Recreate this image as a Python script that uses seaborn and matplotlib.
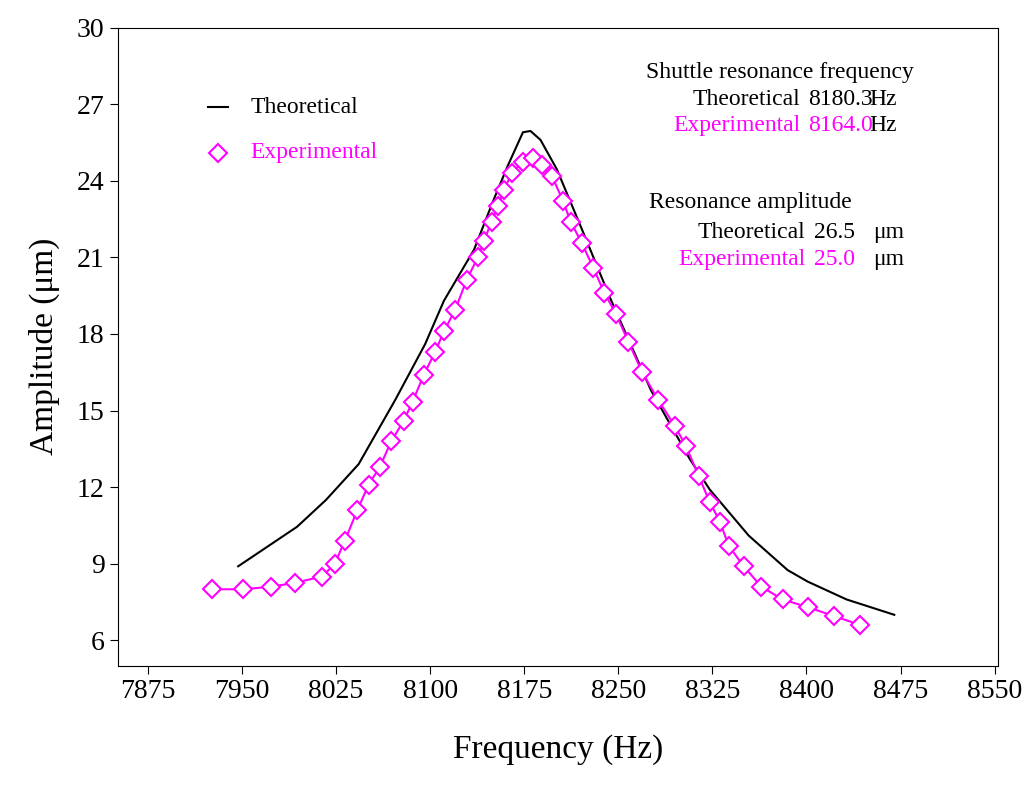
import matplotlib
matplotlib.use("Agg")
import matplotlib.pyplot as plt
import seaborn as sns

theo_f = [7947, 7994, 8017, 8043, 8072, 8096, 8111, 8135, 8151, 8162, 8174, 8180, 8188, 8201, 8221, 8244, 8276, 8307, 8323, 8354, 8385, 8401, 8432, 8470]
theo_a = [8.9, 10.45, 11.5, 12.9, 15.4, 17.6, 19.3, 21.3, 23.3, 24.6, 25.9, 25.95, 25.6, 24.45, 22.1, 19.35, 15.8, 13.1, 11.9, 10.1, 8.75, 8.3, 7.6, 7.0]
exp_f = [7926, 7951, 7973, 7992, 8014, 8024, 8032, 8042, 8051, 8060, 8069, 8079, 8086, 8095, 8104, 8111, 8120, 8129, 8138, 8143, 8149, 8154, 8159, 8165, 8174, 8182, 8189, 8197, 8206, 8212, 8221, 8230, 8239, 8248, 8258, 8269, 8282, 8295, 8304, 8314, 8323, 8331, 8338, 8350, 8364, 8381, 8401, 8422, 8443]
exp_a = [8.0, 8.0, 8.1, 8.25, 8.5, 9.0, 9.9, 11.1, 12.1, 12.8, 13.8, 14.6, 15.35, 16.4, 17.3, 18.1, 18.95, 20.1, 21.0, 21.65, 22.4, 23.0, 23.65, 24.3, 24.75, 24.9, 24.6, 24.2, 23.2, 22.4, 21.55, 20.6, 19.6, 18.8, 17.7, 16.5, 15.4, 14.4, 13.6, 12.45, 11.4, 10.65, 9.7, 8.9, 8.1, 7.6, 7.3, 6.95, 6.6]
xticks = [7875, 7950, 8025, 8100, 8175, 8250, 8325, 8400, 8475, 8550]
yticks = [6, 9, 12, 15, 18, 21, 24, 27, 30]

plt.rcParams["font.family"] = "Liberation Serif"
fig, ax = plt.subplots(figsize=(10.24, 7.88), dpi=100)
fig.subplots_adjust(left=0.115, right=0.975, top=0.965, bottom=0.155)
mag = "#ff00ff"
sns.lineplot(x=theo_f, y=theo_a, ax=ax, color="black", lw=1.5, sort=False)
sns.lineplot(x=exp_f, y=exp_a, ax=ax, color=mag, lw=1.5, marker="D", markersize=9,
             markerfacecolor="white", markeredgecolor=mag, markeredgewidth=1.5, sort=False)
ax.set_xlim(7851, 8553)
ax.set_ylim(5, 30)
ax.set_xticks(xticks)
ax.set_yticks(yticks)
ax.tick_params(labelsize=20, direction="out", length=6)
ax.set_xlabel("Frequency (Hz)", fontsize=24, labelpad=22)
ax.set_ylabel("Amplitude (μm)", fontsize=24, labelpad=12)

# legend
ax.plot([7923, 7939], [26.87, 26.87], color="black", lw=1.5)
ax.text(7957, 26.87, "Theoretical", fontsize=17, va="center")
ax.plot([7931], [25.1], marker="D", ms=9, mfc="white", mec=mag, mew=1.5)
ax.text(7957, 25.1, "Experimental", fontsize=17, va="center", color=mag)

fs = 17
ax.text(8486, 28.24, "Shuttle resonance frequency", fontsize=fs, ha="right", va="center")
ax.text(8395, 27.2, "Theoretical", fontsize=fs, ha="right", va="center")
ax.text(8401, 27.2, "8180.3", fontsize=fs, ha="left", va="center")
ax.text(8450, 27.2, "Hz", fontsize=fs, ha="left", va="center")
ax.text(8395, 26.16, "Experimental", fontsize=fs, ha="right", va="center", color=mag)
ax.text(8401, 26.16, "8164.0", fontsize=fs, ha="left", va="center", color=mag)
ax.text(8450, 26.16, "Hz", fontsize=fs, ha="left", va="center")
ax.text(8436, 23.15, "Resonance amplitude", fontsize=fs, ha="right", va="center")
ax.text(8399, 21.97, "Theoretical", fontsize=fs, ha="right", va="center")
ax.text(8406, 21.97, "26.5", fontsize=fs, ha="left", va="center")
ax.text(8453, 21.97, "μm", fontsize=fs, ha="left", va="center")
ax.text(8399, 20.9, "Experimental", fontsize=fs, ha="right", va="center", color=mag)
ax.text(8406, 20.9, "25.0", fontsize=fs, ha="left", va="center", color=mag)
ax.text(8453, 20.9, "μm", fontsize=fs, ha="left", va="center")

fig.savefig("out.png", dpi=100)
